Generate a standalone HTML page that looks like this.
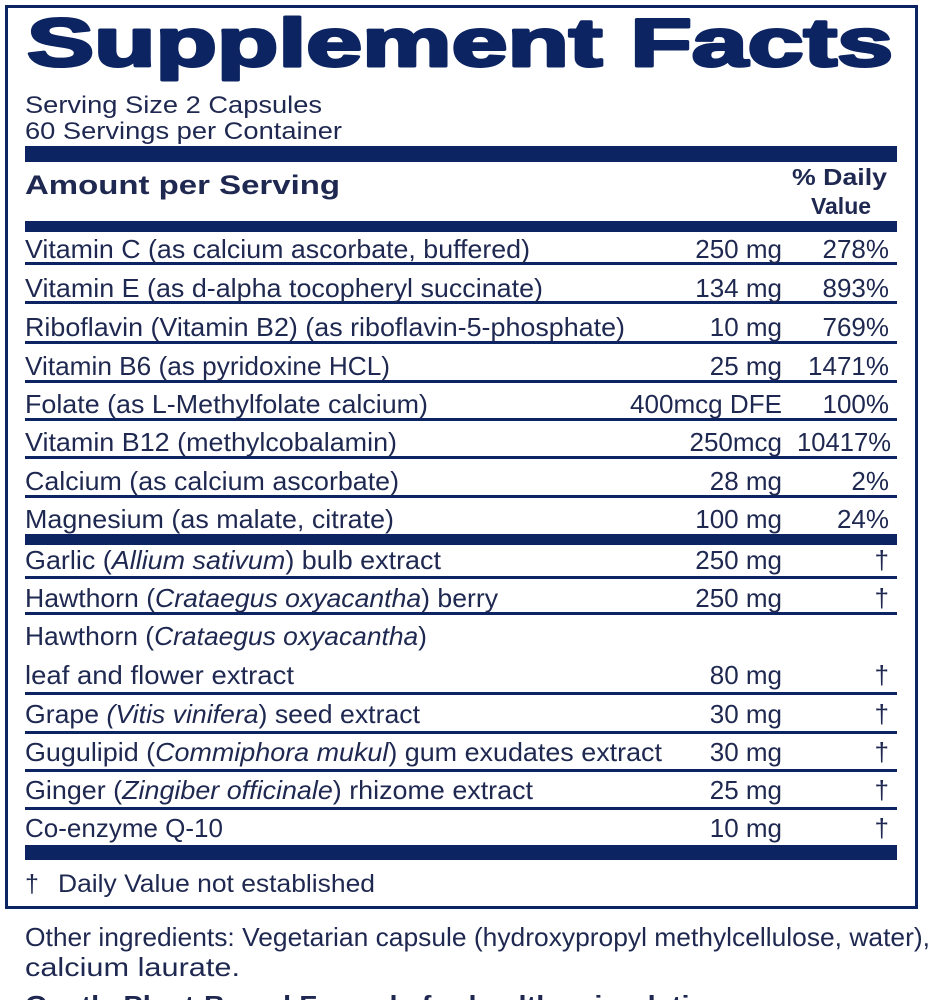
<!DOCTYPE html>
<html><head><meta charset="utf-8"><style>
html,body{margin:0;padding:0;background:#fff;width:938px;height:1000px;overflow:hidden}
svg{display:block}
text{font-family:"Liberation Sans",Arial,sans-serif;fill:#1e2850}
</style></head><body>
<svg width="938" height="1000" viewBox="0 0 938 1000" xmlns="http://www.w3.org/2000/svg">
<rect x="6.5" y="6.5" width="910" height="901" fill="none" stroke="#0c2461" stroke-width="3"/>
<text x="27" y="66" font-size="68" font-weight="bold" style="fill:#0c2461;stroke:#0c2461;stroke-width:3;stroke-linejoin:round" textLength="866" lengthAdjust="spacingAndGlyphs">Supplement Facts</text>
<text x="25" y="113" font-size="24" textLength="297" lengthAdjust="spacingAndGlyphs">Serving Size 2 Capsules</text>
<text x="25" y="139" font-size="24" textLength="317" lengthAdjust="spacingAndGlyphs">60 Servings per Container</text>
<rect x="25" y="146" width="872" height="16" fill="#0c2461"/>
<text x="25" y="194" font-size="27" font-weight="bold" textLength="315" lengthAdjust="spacingAndGlyphs">Amount per Serving</text>
<text x="887" y="185" font-size="23" font-weight="bold" text-anchor="end" textLength="95" lengthAdjust="spacingAndGlyphs">% Daily</text>
<text x="841" y="214" font-size="23" font-weight="bold" text-anchor="middle">Value</text>
<rect x="25" y="221" width="872" height="11" fill="#0c2461"/>
<g fill="#0c2461">
<rect x="25" y="262" width="872" height="3"/>
<rect x="25" y="301" width="872" height="3"/>
<rect x="25" y="341" width="872" height="3"/>
<rect x="25" y="380" width="872" height="3"/>
<rect x="25" y="418" width="872" height="3"/>
<rect x="25" y="456" width="872" height="3"/>
<rect x="25" y="495" width="872" height="3"/>
<rect x="25" y="534" width="872" height="11"/>
<rect x="25" y="576" width="872" height="3"/>
<rect x="25" y="612" width="872" height="3"/>
<rect x="25" y="692" width="872" height="3"/>
<rect x="25" y="731" width="872" height="3"/>
<rect x="25" y="769" width="872" height="3"/>
<rect x="25" y="807" width="872" height="3"/>
<rect x="25" y="845" width="872" height="15"/>
</g>
<g font-size="26">
<text x="25" y="258" textLength="505" lengthAdjust="spacingAndGlyphs">Vitamin C (as calcium ascorbate, buffered)</text>
<text x="25" y="297" textLength="518" lengthAdjust="spacingAndGlyphs">Vitamin E (as d-alpha tocopheryl succinate)</text>
<text x="25" y="336" textLength="600" lengthAdjust="spacingAndGlyphs">Riboflavin (Vitamin B2) (as riboflavin-5-phosphate)</text>
<text x="25" y="375" textLength="365" lengthAdjust="spacingAndGlyphs">Vitamin B6 (as pyridoxine HCL)</text>
<text x="25" y="413" textLength="403" lengthAdjust="spacingAndGlyphs">Folate (as L-Methylfolate calcium)</text>
<text x="25" y="451" textLength="372" lengthAdjust="spacingAndGlyphs">Vitamin B12 (methylcobalamin)</text>
<text x="25" y="490" textLength="374" lengthAdjust="spacingAndGlyphs">Calcium (as calcium ascorbate)</text>
<text x="25" y="528" textLength="369" lengthAdjust="spacingAndGlyphs">Magnesium (as malate, citrate)</text>
<text x="25" y="569" textLength="416" lengthAdjust="spacingAndGlyphs">Garlic (<tspan font-style="italic">Allium sativum</tspan>) bulb extract</text>
<text x="25" y="607" textLength="473" lengthAdjust="spacingAndGlyphs">Hawthorn (<tspan font-style="italic">Crataegus oxyacantha</tspan>) berry</text>
<text x="25" y="645" textLength="402" lengthAdjust="spacingAndGlyphs">Hawthorn (<tspan font-style="italic">Crataegus oxyacantha</tspan>)</text>
<text x="25" y="684" textLength="269" lengthAdjust="spacingAndGlyphs">leaf and flower extract</text>
<text x="25" y="723" textLength="395" lengthAdjust="spacingAndGlyphs">Grape <tspan font-style="italic">(Vitis vinifera</tspan>) seed extract</text>
<text x="25" y="761" textLength="637" lengthAdjust="spacingAndGlyphs">Gugulipid (<tspan font-style="italic">Commiphora mukul</tspan>) gum exudates extract</text>
<text x="25" y="799" textLength="508" lengthAdjust="spacingAndGlyphs">Ginger (<tspan font-style="italic">Zingiber officinale</tspan>) rhizome extract</text>
<text x="25" y="837">Co-enzyme Q-10</text>
</g>
<g font-size="26" text-anchor="end">
<text x="782" y="258">250 mg</text><text x="889" y="258">278%</text>
<text x="782" y="297">134 mg</text><text x="889" y="297">893%</text>
<text x="782" y="336">10 mg</text><text x="889" y="336">769%</text>
<text x="782" y="375">25 mg</text><text x="889" y="375">1471%</text>
<text x="782" y="413" textLength="152" lengthAdjust="spacingAndGlyphs">400mcg DFE</text><text x="889" y="413">100%</text>
<text x="782" y="451">250mcg</text><text x="891" y="451" textLength="94" lengthAdjust="spacingAndGlyphs">10417%</text>
<text x="782" y="490">28 mg</text><text x="889" y="490">2%</text>
<text x="782" y="528">100 mg</text><text x="889" y="528">24%</text>
<text x="782" y="569">250 mg</text><text x="889" y="569">†</text>
<text x="782" y="607">250 mg</text><text x="889" y="607">†</text>
<text x="782" y="684">80 mg</text><text x="889" y="684">†</text>
<text x="782" y="723">30 mg</text><text x="889" y="723">†</text>
<text x="782" y="761">30 mg</text><text x="889" y="761">†</text>
<text x="782" y="799">25 mg</text><text x="889" y="799">†</text>
<text x="782" y="837">10 mg</text><text x="889" y="837">†</text>
</g>
<text x="25" y="892" font-size="25">†</text>
<text x="58" y="892" font-size="25" textLength="317" lengthAdjust="spacingAndGlyphs">Daily Value not established</text>
<text x="25" y="946" font-size="26" textLength="905" lengthAdjust="spacingAndGlyphs">Other ingredients: Vegetarian capsule (hydroxypropyl methylcellulose, water),</text>
<text x="25" y="976" font-size="26" textLength="215" lengthAdjust="spacingAndGlyphs">calcium laurate.</text>
<text x="25" y="1014" font-size="26" font-weight="bold" textLength="700" lengthAdjust="spacingAndGlyphs">Gentle Plant-Based Formula for healthy circulation</text>
</svg>
</body></html>
